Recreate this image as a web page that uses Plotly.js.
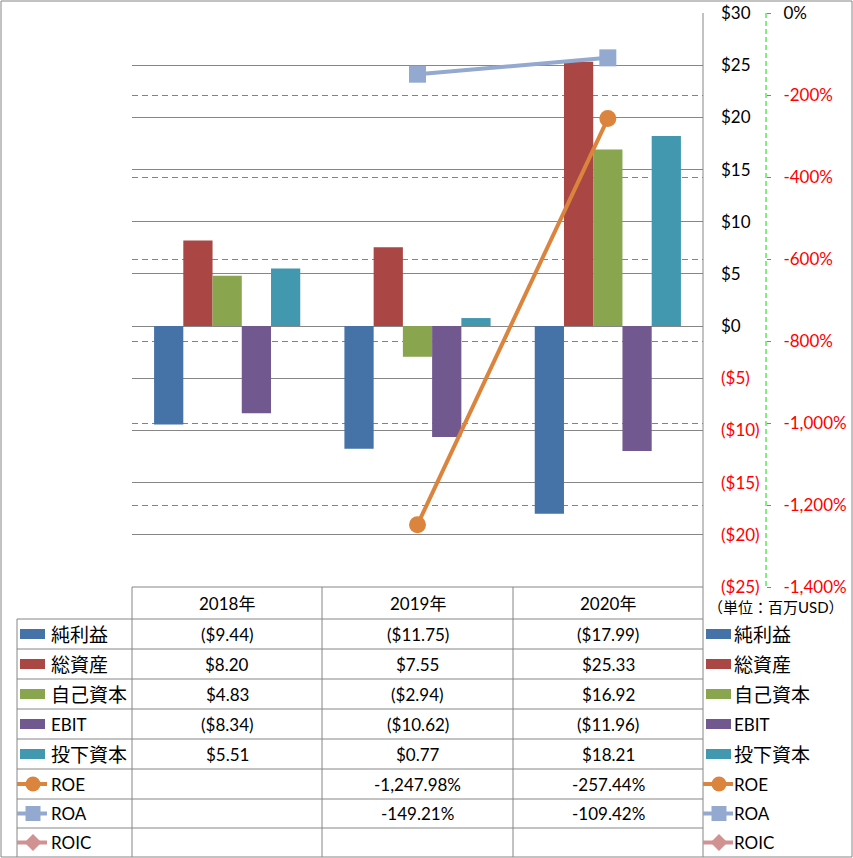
<!DOCTYPE html>
<html>
<head>
<meta charset="utf-8">
<script src="https://cdn.plot.ly/plotly-3.0.1.min.js"></script>
<style>html,body{margin:0;padding:0;background:#fff;}#chart{width:853px;height:858px;}</style>
</head>
<body>
<div id="chart"></div>
<script>
// ---- data ----
const categories = ['2018年', '2019年', '2020年'];
const netIncome = [-9.44, -11.75, -17.99];
const totalAssets = [8.20, 7.55, 25.33];
const equity = [4.83, -2.94, 16.92];
const ebit = [-8.34, -10.62, -11.96];
const investedCapital = [5.51, 0.77, 18.21];
const roe = [null, -1247.98, -257.44];
const roa = [null, -149.21, -109.42];
const roic = [null, null, null];
const seriesNames = ['純利益', '総資産', '自己資本', 'EBIT', '投下資本', 'ROE', 'ROA', 'ROIC'];
const moneyTicks = [-25, -20, -15, -10, -5, 0, 5, 10, 15, 20, 25, 30];
const pctTicks = [-1400, -1200, -1000, -800, -600, -400, -200, 0];
const unitLabel = '（単位：百万USD）';

// ---- styles ----
const W = 853, H = 858;
const X = px => px / W;
const Y = py => 1 - py / H;
const FONT = "Lato, 'Noto Sans CJK JP', sans-serif";
const GRAY = '#868686';
const GREEN = '#00e000';
const RED = '#ff0000';
const barColors = ['#4572A7', '#AA4643', '#89A54E', '#71588F', '#4198AF'];
const lineColors = ['#DB843D', '#93A9CF', '#D19392'];

const money = v => v == null ? '' : (v < 0 ? '($' + Math.abs(v).toFixed(2) + ')' : '$' + v.toFixed(2));
const pct = v => v == null ? '' : v.toLocaleString('en-US', {minimumFractionDigits: 2, maximumFractionDigits: 2}) + '%';
const moneyTick = v => v < 0 ? '<span style="color:' + RED + '">($' + Math.abs(v) + ')</span>' : '$' + v;
const pctTick = v => v < 0 ? '<span style="color:' + RED + '">' + v.toLocaleString('en-US') + '%</span>' : v + '%';

const barSeries = [netIncome, totalAssets, equity, ebit, investedCapital];
const lineSeries = [roe, roa, roic];
const lineSymbols = ['circle', 'square', 'diamond'];

const traces = [];
barSeries.forEach((vals, i) => {
  traces.push({type: 'bar', x: categories, y: vals, name: seriesNames[i],
    marker: {color: barColors[i], line: {width: 0}}, xaxis: 'x', yaxis: 'y', hoverinfo: 'y'});
});
lineSeries.forEach((vals, i) => {
  traces.push({type: 'scatter', mode: 'lines+markers', x: categories, y: vals, name: seriesNames[5 + i],
    line: {color: lineColors[i], width: 4}, marker: {symbol: lineSymbols[i], size: 17, color: lineColors[i]},
    xaxis: 'x', yaxis: 'y2', connectgaps: false});
});

// ---- table geometry (pixels) ----
const colX = [132, 322, 513, 703];
const legendLeft = 17;
const headerTop = 587;
const rowY = [619, 649, 679, 709, 739, 769, 799, 828, 857];

const shapes = [];
const annotations = [];
const hline = (x0, x1, y) => shapes.push({type: 'line', xref: 'paper', yref: 'paper', x0: X(x0), x1: X(x1), y0: Y(y), y1: Y(y), line: {color: GRAY, width: 1}});
const vline = (x, y0, y1) => shapes.push({type: 'line', xref: 'paper', yref: 'paper', x0: X(x), x1: X(x), y0: Y(y0), y1: Y(y1), line: {color: GRAY, width: 1}});

// outer frame
shapes.push({type: 'rect', xref: 'paper', yref: 'paper', x0: X(1), x1: X(852), y0: Y(1), y1: Y(857), line: {color: GRAY, width: 1}});
// plot right border
vline(703, 13, 857);
// secondary axis dashed line
shapes.push({type: 'line', xref: 'paper', yref: 'paper', x0: X(766), x1: X(766), y0: Y(13), y1: Y(587), line: {color: GREEN, width: 1, dash: '5px,3px'}});
// table lines
hline(132, 703, headerTop);
rowY.slice(0, 8).forEach(y => hline(legendLeft, 703, y));
vline(legendLeft, rowY[0], 857);
colX.slice(0, 3).forEach(x => vline(x, headerTop, 857));

// headers
categories.forEach((c, j) => {
  annotations.push({xref: 'paper', yref: 'paper', x: X((colX[j] + colX[j + 1]) / 2), y: Y((headerTop + rowY[0]) / 2),
    text: c, showarrow: false, xanchor: 'center', yanchor: 'middle', font: {size: 17, color: '#000'}});
});
// cells
const allSeries = barSeries.concat(lineSeries);
allSeries.forEach((vals, r) => {
  const yc = (rowY[r] + rowY[r + 1]) / 2;
  vals.forEach((v, j) => {
    const t = r < 5 ? money(v) : pct(v);
    if (t) annotations.push({xref: 'paper', yref: 'paper', x: X((colX[j] + colX[j + 1]) / 2), y: Y(yc),
      text: t, showarrow: false, xanchor: 'center', yanchor: 'middle', font: {size: 17, color: '#000'}});
  });
});

// legend keys (table left column and right side)
function legendKey(x0, textX, r) {
  const yc = (rowY[r] + rowY[r + 1]) / 2;
  const name = seriesNames[r];
  const isCJK = /[^\x00-\x7f]/.test(name);
  annotations.push({xref: 'paper', yref: 'paper', x: X(textX), y: Y(yc), text: name, showarrow: false,
    xanchor: 'left', yanchor: 'middle', font: {size: isCJK ? 19 : 17, color: '#000'}});
  if (r < 5) {
    shapes.push({type: 'rect', xref: 'paper', yref: 'paper', x0: X(x0 + 3), x1: X(x0 + 28), y0: Y(yc - 5), y1: Y(yc + 5),
      fillcolor: barColors[r], line: {width: 0}});
  } else {
    const c = lineColors[r - 5];
    const cx = x0 + 16;
    shapes.push({type: 'line', xref: 'paper', yref: 'paper', x0: X(x0), x1: X(x0 + 30), y0: Y(yc), y1: Y(yc), line: {color: c, width: 4}});
    const s = 7.5;
    if (r === 5) shapes.push({type: 'circle', xref: 'paper', yref: 'paper', x0: X(cx - s), x1: X(cx + s), y0: Y(yc - s), y1: Y(yc + s), fillcolor: c, line: {width: 0}});
    else if (r === 6) shapes.push({type: 'rect', xref: 'paper', yref: 'paper', x0: X(cx - s), x1: X(cx + s), y0: Y(yc - s), y1: Y(yc + s), fillcolor: c, line: {width: 0}});
    else shapes.push({type: 'path', xref: 'paper', yref: 'paper',
      path: 'M ' + X(cx - s - 1) + ',' + Y(yc) + ' L ' + X(cx) + ',' + Y(yc - s - 1) + ' L ' + X(cx + s + 1) + ',' + Y(yc) + ' L ' + X(cx) + ',' + Y(yc + s + 1) + ' Z',
      fillcolor: c, line: {width: 0}});
  }
}
for (let r = 0; r < 8; r++) { legendKey(legendLeft, 49, r); legendKey(703, 732, r); }

// unit label
annotations.push({xref: 'paper', yref: 'paper', x: X(776), y: Y(607), text: unitLabel, showarrow: false,
  xanchor: 'center', yanchor: 'middle', font: {size: 15, color: '#000'}});

const layout = {
  width: W, height: H, autosize: false,
  margin: {l: 0, r: 0, t: 0, b: 0, pad: 0},
  paper_bgcolor: '#fff', plot_bgcolor: '#fff',
  font: {family: FONT, size: 17, color: '#000'},
  showlegend: false,
  barmode: 'group', bargap: 0.232, bargroupgap: 0,
  xaxis: {domain: [X(132), X(703)], range: [-0.5, 2.5], showticklabels: false, ticks: '', showgrid: false,
    zeroline: false, showline: false, type: 'category', fixedrange: true},
  yaxis: {domain: [Y(587), Y(13)], range: [-25, 30], side: 'right', tickvals: moneyTicks, ticktext: moneyTicks.map(moneyTick),
    showgrid: true, gridcolor: GRAY, gridwidth: 1, zeroline: false, showline: false, ticks: '',
    ticklabelstandoff: 17, tickfont: {size: 17, color: '#000'}, fixedrange: true},
  yaxis2: {overlaying: 'y', anchor: 'free', position: X(766), side: 'right', range: [-1400, 0],
    tickvals: pctTicks, ticktext: pctTicks.map(pctTick), showgrid: true, gridcolor: GREEN, gridwidth: 1, griddash: '6px,4px',
    zeroline: false, showline: false, ticks: 'outside', ticklen: 4, tickcolor: GREEN, tickwidth: 1,
    ticklabelstandoff: 9, tickfont: {size: 17, color: '#000'}, fixedrange: true},
  shapes: shapes,
  annotations: annotations
};

Plotly.newPlot('chart', traces, layout, {displayModeBar: false, staticPlot: true});
</script>
</body>
</html>
